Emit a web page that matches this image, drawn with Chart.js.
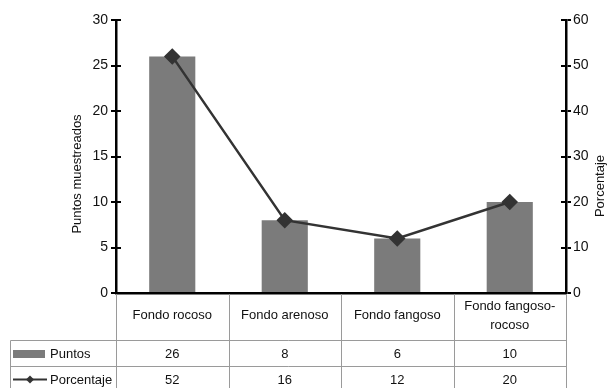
<!DOCTYPE html>
<html>
<head>
<meta charset="utf-8">
<script src="https://cdn.jsdelivr.net/npm/chart.js@4/dist/chart.umd.min.js"></script>
<style>
html,body{margin:0;padding:0;background:#fff;}
canvas{display:block;}
</style>
</head>
<body>
<canvas id="c" width="607" height="388"></canvas>
<script>
const categories = ['Fondo rocoso', 'Fondo arenoso', 'Fondo fangoso', ['Fondo fangoso-', 'rocoso']];
const puntos = [26, 8, 6, 10];
const porcentaje = [52, 16, 12, 20];
const leftTicks = [0, 5, 10, 15, 20, 25, 30];
const rightTicks = [0, 10, 20, 30, 40, 50, 60];
const seriesNames = ['Puntos', 'Porcentaje'];
const leftTitle = 'Puntos muestreados';
const rightTitle = 'Porcentaje';

const FONT = 'Liberation Sans, Arial, sans-serif';
const BAR_COLOR = '#7b7b7b';
const LINE_COLOR = '#333333';
const TABLE_COLOR = '#9a9a9a';

const tablePlugin = {
  id: 'tablePlugin',
  afterDraw(chart) {
    const ctx = chart.ctx;
    const x = chart.scales.x, y = chart.scales.y, y1 = chart.scales.y1;
    const area = chart.chartArea;
    ctx.save();
    // inner half of crossing tick marks
    ctx.strokeStyle = '#000';
    ctx.lineWidth = 2;
    y.ticks.forEach((t, i) => {
      const py = Math.round(y.getPixelForTick(i));
      ctx.beginPath(); ctx.moveTo(area.left, py); ctx.lineTo(area.left + 5, py); ctx.stroke();
    });
    y1.ticks.forEach((t, i) => {
      const py = Math.round(y1.getPixelForTick(i));
      ctx.beginPath(); ctx.moveTo(area.right - 5, py); ctx.lineTo(area.right, py); ctx.stroke();
    });
    // table lines
    const n = categories.length;
    const w = (area.right - area.left) / n;
    const rowTop = 340.5, rowMid = 366.5, tableLeft = 10.5, bottom = chart.height;
    ctx.strokeStyle = TABLE_COLOR;
    ctx.lineWidth = 1;
    for (let i = 0; i <= n; i++) {
      const px = Math.round(area.left + i * w) + 0.5;
      ctx.beginPath(); ctx.moveTo(px, area.bottom + 1); ctx.lineTo(px, bottom); ctx.stroke();
    }
    ctx.beginPath(); ctx.moveTo(tableLeft, rowTop); ctx.lineTo(area.right, rowTop); ctx.stroke();
    ctx.beginPath(); ctx.moveTo(tableLeft, rowMid); ctx.lineTo(area.right, rowMid); ctx.stroke();
    ctx.beginPath(); ctx.moveTo(tableLeft, rowTop); ctx.lineTo(tableLeft, bottom); ctx.stroke();

    // legend keys
    ctx.fillStyle = BAR_COLOR;
    ctx.fillRect(13, 350, 32, 8);
    ctx.strokeStyle = LINE_COLOR;
    ctx.lineWidth = 2;
    ctx.beginPath(); ctx.moveTo(13, 379.5); ctx.lineTo(47, 379.5); ctx.stroke();
    ctx.fillStyle = LINE_COLOR;
    ctx.beginPath(); ctx.moveTo(30, 375.5); ctx.lineTo(34, 379.5); ctx.lineTo(30, 383.5); ctx.lineTo(26, 379.5); ctx.closePath(); ctx.fill();

    ctx.fillStyle = '#111';
    ctx.font = '13px ' + FONT;
    ctx.textBaseline = 'middle';
    ctx.textAlign = 'left';
    ctx.fillText(seriesNames[0], 50, 354);
    ctx.fillText(seriesNames[1], 50, 380);
    ctx.textAlign = 'center';
    for (let i = 0; i < n; i++) {
      const cx = x.getPixelForValue(i);
      ctx.fillText(String(puntos[i]), cx, 354);
      ctx.fillText(String(porcentaje[i]), cx, 380);
    }
    // axis titles
    ctx.save();
    ctx.translate(77, 174); ctx.rotate(-Math.PI / 2);
    ctx.fillText(leftTitle, 0, 0);
    ctx.restore();
    ctx.save();
    ctx.translate(600, 186); ctx.rotate(-Math.PI / 2);
    ctx.fillText(rightTitle, 0, 0);
    ctx.restore();
    ctx.restore();
  }
};

new Chart(document.getElementById('c'), {
  data: {
    labels: categories,
    datasets: [
      {
        type: 'line', label: seriesNames[1], data: porcentaje, yAxisID: 'y1', order: 0,
        borderColor: LINE_COLOR, backgroundColor: LINE_COLOR, borderWidth: 2.5,
        pointStyle: 'rectRot', pointRadius: 6.5, pointHoverRadius: 6.5,
        pointBackgroundColor: LINE_COLOR, pointBorderColor: LINE_COLOR, tension: 0
      },
      {
        type: 'bar', label: seriesNames[0], data: puntos, yAxisID: 'y', order: 1,
        backgroundColor: BAR_COLOR, borderWidth: 0,
        barPercentage: 0.41, categoryPercentage: 1
      }
    ]
  },
  options: {
    responsive: false,
    animation: false,
    devicePixelRatio: 1,
    layout: { padding: { left: 0, right: 0, top: 20, bottom: 48 } },
    plugins: { legend: { display: false }, tooltip: { enabled: false } },
    scales: {
      x: {
        type: 'category', offset: true,
        grid: { display: false, drawTicks: false },
        border: { display: true, color: '#000', width: 2.5 },
        ticks: { color: '#111', font: { family: FONT, size: 13, lineHeight: 1.46 }, padding: 13, crossAlign: 'center', maxRotation: 0, autoSkip: false },
        afterFit(s) { s.height = 47; }
      },
      y: {
        position: 'left', min: 0, max: 30,
        afterBuildTicks(s) { s.ticks = leftTicks.map(v => ({ value: v })); },
        grid: { drawOnChartArea: false, color: '#000', lineWidth: 2, tickLength: 5 },
        border: { color: '#000', width: 2.5 },
        ticks: { color: '#111', font: { family: FONT, size: 14 }, padding: 3 },
        afterFit(s) { s.width = 116; }
      },
      y1: {
        position: 'right', min: 0, max: 60,
        afterBuildTicks(s) { s.ticks = rightTicks.map(v => ({ value: v })); },
        grid: { drawOnChartArea: false, color: '#000', lineWidth: 2, tickLength: 5 },
        border: { color: '#000', width: 2.5 },
        ticks: { color: '#111', font: { family: FONT, size: 14 }, padding: 2 },
        afterFit(s) { s.width = 41; }
      }
    }
  },
  plugins: [tablePlugin]
});
</script>
</body>
</html>
